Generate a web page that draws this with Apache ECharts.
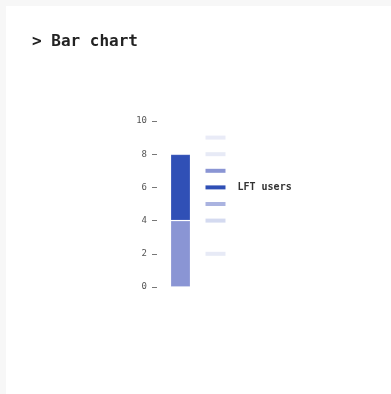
<!DOCTYPE html>
<html>
<head>
<meta charset="utf-8">
<script src="https://cdn.jsdelivr.net/npm/echarts@6/dist/echarts.min.js"></script>
<style>
  html, body { margin: 0; padding: 0; background: #f7f7f7; }
  #card { position: absolute; left: 6px; top: 6px; right: 0; bottom: 0; background: #ffffff; }
  #chart { position: absolute; left: 0; top: 0; width: 391px; height: 394px; }
</style>
</head>
<body>
<div id="card"></div>
<div id="chart"></div>
<script>
// Chart data
const categories = ['LFT users', 'scale'];
const lowerSegment = [4, null];   // 0 → 4
const upperSegment = [4, null];   // 4 → 8 (stacked)
const keyLevels = [2, 4, 5, 6, 7, 8, 9];
const keyLabel = 'LFT users';
const labelledLevel = 6;
const yTicks = [0, 2, 4, 6, 8, 10];

// Palette
const darkBlue = '#3050b6';
const midBlue = '#8a95d4';
const keyColors = ['#e7eaf6', '#d4daf0', '#aab3e0', '#2f4fb5', '#8a95d4', '#e7eaf6', '#e9ebf7'];

const mono = '"DejaVu Sans Mono", "Liberation Mono", monospace';

const chart = echarts.init(document.getElementById('chart'), null, { renderer: 'canvas' });

chart.setOption({
  animation: false,
  title: {
    text: '> Bar chart',
    left: 27,
    top: 29,
    textStyle: { fontFamily: mono, fontSize: 16, fontWeight: 'bold', color: '#222222' }
  },
  grid: { left: 163, width: 70, top: 121, bottom: 107, containLabel: false },
  xAxis: {
    type: 'category',
    data: categories,
    show: false
  },
  yAxis: {
    type: 'value',
    min: yTicks[0],
    max: yTicks[yTicks.length - 1],
    interval: 2,
    offset: 6,
    axisLine: { show: false },
    axisTick: { show: true, length: 5, lineStyle: { color: '#777777', width: 1 } },
    splitLine: { show: false },
    axisLabel: {
      margin: 10,
      fontFamily: mono,
      fontSize: 9,
      color: '#555555'
    }
  },
  series: [
    {
      type: 'bar',
      stack: 'total',
      data: lowerSegment,
      barWidth: 20,
      itemStyle: { color: midBlue, borderColor: 'rgba(255,255,255,0.2)', borderWidth: 1 }
    },
    {
      type: 'bar',
      stack: 'total',
      data: upperSegment,
      barWidth: 20,
      itemStyle: { color: darkBlue, borderColor: 'rgba(255,255,255,0.2)', borderWidth: 1 }
    },
    {
      type: 'scatter',
      symbol: 'rect',
      symbolSize: [20, 4],
      data: keyLevels.map((v, i) => ({
        value: [1, v],
        itemStyle: { color: keyColors[i], opacity: 1 },
        label: v === labelledLevel ? {
          show: true,
          position: 'right',
          distance: 12,
          formatter: keyLabel,
          fontFamily: mono,
          fontSize: 10,
          fontWeight: 'bold',
          color: '#333333'
        } : { show: false }
      }))
    }
  ]
});
</script>
</body>
</html>
